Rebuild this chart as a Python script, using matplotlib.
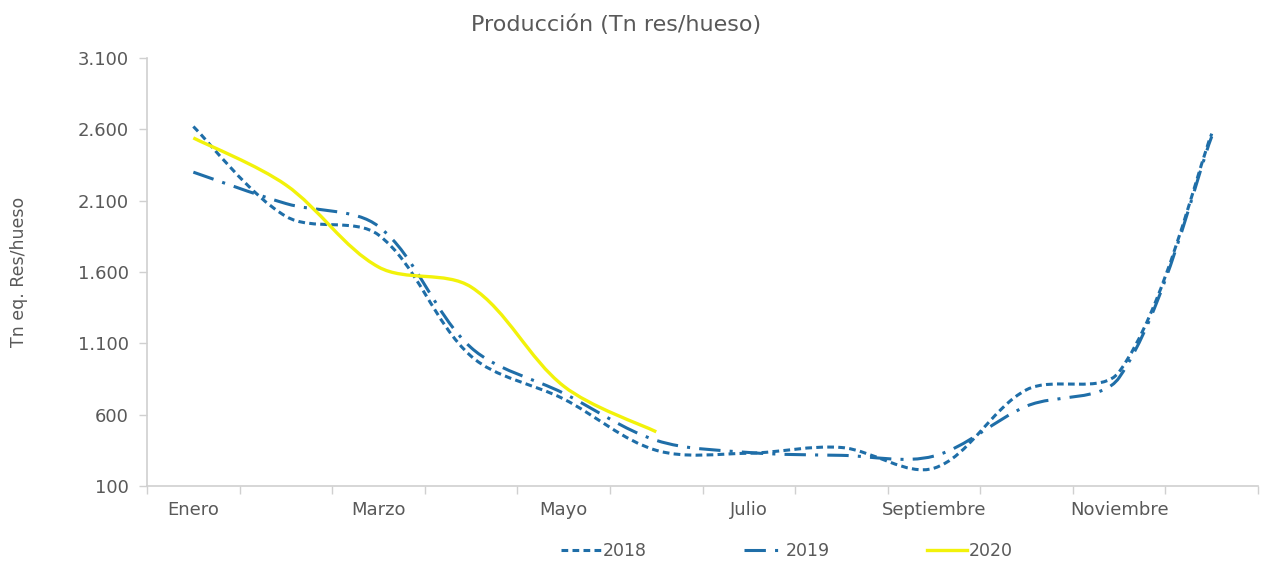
import numpy as np
import matplotlib
matplotlib.use("Agg")
from matplotlib import pyplot as plt
from matplotlib.path import Path
from matplotlib.patches import PathPatch
from matplotlib.lines import Line2D
from matplotlib.ticker import FuncFormatter

# datos
meses = ['Enero', 'Febrero', 'Marzo', 'Abril', 'Mayo', 'Junio', 'Julio',
         'Agosto', 'Septiembre', 'Octubre', 'Noviembre', 'Diciembre']
p2018 = [2620, 1990, 1860, 1010, 710, 350, 330, 370, 225, 775, 900, 2570]
p2019 = [2300, 2080, 1920, 1070, 750, 420, 335, 315, 310, 660, 860, 2550]
p2020 = [2540, 2210, 1635, 1495, 800, 480]

azul = '#1f6ea8'
amarillo = '#f2f20a'
gris = '#595959'

plt.rcParams['font.family'] = ['DejaVu Sans']


def curva(ax, y, **kw):
    # linea suavizada (bezier cubica) calculada en pixeles, como en Excel
    x = np.arange(len(y), dtype=float)
    pts = ax.transData.transform(np.column_stack([x, np.array(y, dtype=float)]))
    n = len(pts)
    dist = lambda a, b: np.hypot(*(b - a))
    verts = [pts[0]]
    codes = [Path.MOVETO]
    for i in range(n - 1):
        p0 = pts[i - 1] if i > 0 else pts[i]
        p1 = pts[i]
        p2 = pts[i + 1]
        p3 = pts[i + 2] if i + 2 < n else pts[i + 1]
        d01, d12, d23 = dist(p0, p1), dist(p1, p2), dist(p2, p3)
        f1 = d12 / (d01 + d12) / 3 if d01 > 0 else 1 / 6
        f2 = d12 / (d12 + d23) / 3 if d23 > 0 else 1 / 6
        c1 = p1 + (p2 - p0) * f1
        c2 = p2 - (p3 - p1) * f2
        verts += [c1, c2, p2]
        codes += [Path.CURVE4] * 3
    verts = ax.transData.inverted().transform(np.array(verts))
    patch = PathPatch(Path(verts, codes), fill=False, transform=ax.transData,
                      capstyle='butt', **kw)
    ax.add_patch(patch)


fig = plt.figure(figsize=(12.71, 5.65), dpi=100)
ax = fig.add_axes([0.1157, 0.1398, 0.8741, 0.7575])

ax.set_xlim(-0.5, len(meses) - 0.5)
ax.set_ylim(100, 3100)

estilo18 = dict(edgecolor=azul, linewidth=2.2, linestyle=(0, (2.2, 1.4)))
estilo19 = dict(edgecolor=azul, linewidth=2.2, linestyle=(0, (7, 3, 1, 3)))
estilo20 = dict(edgecolor=amarillo, linewidth=2.4, linestyle='-')

curva(ax, p2018, **estilo18)
curva(ax, p2019, **estilo19)
curva(ax, p2020, **estilo20)

ax.set_yticks(range(100, 3101, 500))
ax.yaxis.set_major_formatter(FuncFormatter(lambda v, p: f'{int(v):,}'.replace(',', '.')))

ax.set_xticks(range(0, len(meses), 2))
ax.set_xticklabels(meses[::2])
ax.set_xticks(np.arange(-0.5, len(meses), 1), minor=True)
ax.tick_params(axis='x', which='major', length=0, pad=11, labelsize=13, labelcolor=gris)
ax.tick_params(axis='x', which='minor', length=6, color='#d0d0d0', width=1)
ax.tick_params(axis='y', length=6, color='#d0d0d0', width=1, labelsize=13,
               labelcolor=gris, pad=7)

for s in ['top', 'right']:
    ax.spines[s].set_visible(False)
for s in ['left', 'bottom']:
    ax.spines[s].set_color('#d0d0d0')
    ax.spines[s].set_linewidth(1.2)

ax.set_ylabel('Tn eq. Res/hueso', fontsize=12.5, color=gris, labelpad=36)
fig.suptitle('Producción (Tn res/hueso)', fontsize=16, color=gris, x=0.485, y=0.975)

h18 = Line2D([], [], color=azul, linewidth=2.2, linestyle=(0, (2.2, 1.4)))
h19 = Line2D([], [], color=azul, linewidth=2.2, linestyle=(0, (7, 3, 1, 3)))
h20 = Line2D([], [], color=amarillo, linewidth=2.4)
fig.legend([h18, h19, h20], ['2018', '2019', '2020'], loc='center',
           bbox_to_anchor=(0.619, 0.025), ncol=3, frameon=False, fontsize=12.5,
           labelcolor=gris, handlelength=2.3, handletextpad=0.1, columnspacing=5.6)

plt.savefig('out.png', dpi=100)
